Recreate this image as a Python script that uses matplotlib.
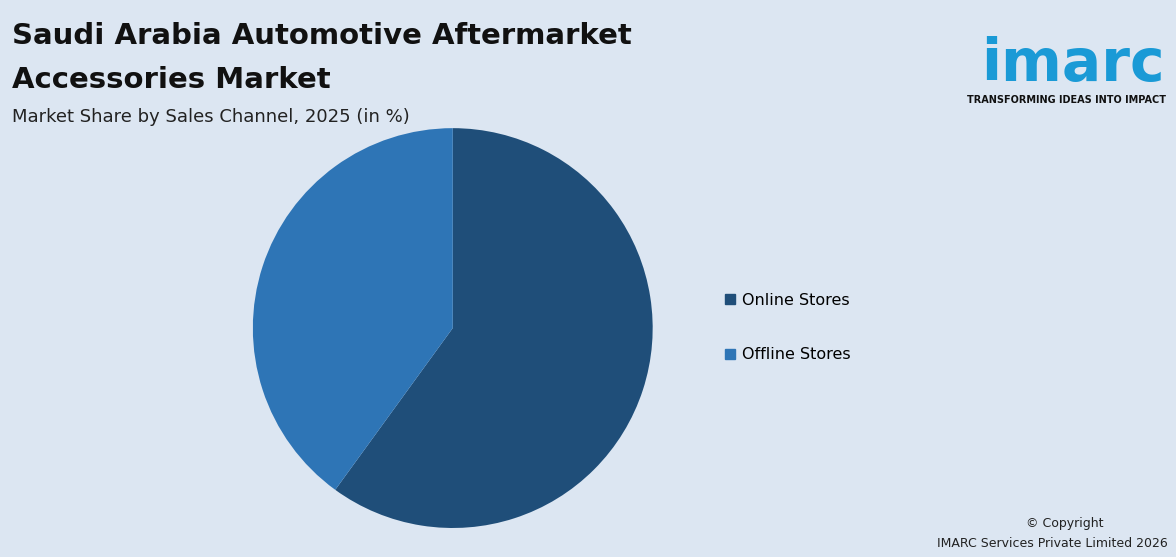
import matplotlib.pyplot as plt
from matplotlib.patches import Patch

labels = ["Online Stores", "Offline Stores"]
values = [60, 40]
colors = ["#1f4e79", "#2e75b6"]
bg = "#dce6f2"

fig = plt.figure(figsize=(11.76, 5.57), dpi=100, facecolor=bg)
ax = fig.add_axes([0.215, 0.052, 0.340, 0.718])
ax.set_facecolor(bg)
ax.pie(values, colors=colors, startangle=90, counterclock=False,
       wedgeprops=dict(linewidth=0), radius=1.0)
ax.set_xlim(-1.0, 1.0)
ax.set_ylim(-1.0, 1.0)
ax.set_aspect("equal")

handles = [Patch(color=c, label=l) for c, l in zip(colors, labels)]
fig.legend(handles=handles, loc="center left", bbox_to_anchor=(0.604, 0.412),
           frameon=False, fontsize=11.5, handlelength=0.65, handleheight=0.65,
           handletextpad=0.45, labelspacing=2.5)

fig.text(0.010, 0.935, "Saudi Arabia Automotive Aftermarket", fontsize=21, fontweight="bold", color="#111111", va="center")
fig.text(0.010, 0.857, "Accessories Market", fontsize=21, fontweight="bold", color="#111111", va="center")
fig.text(0.010, 0.790, "Market Share by Sales Channel, 2025 (in %)", fontsize=13, color="#222222", va="center")

fig.text(0.9125, 0.885, "imarc", fontsize=42, fontweight="bold", color="#1a9ad6", ha="center", va="center")
fig.text(0.9065, 0.820, "TRANSFORMING IDEAS INTO IMPACT", fontsize=7, fontweight="bold", color="#111111", ha="center", va="center")

fig.text(0.905, 0.060, "© Copyright", fontsize=9, color="#222222", ha="center", va="center")
fig.text(0.993, 0.025, "IMARC Services Private Limited 2026", fontsize=9, color="#222222", ha="right", va="center")

fig.savefig("out.png", dpi=100, facecolor=bg)
